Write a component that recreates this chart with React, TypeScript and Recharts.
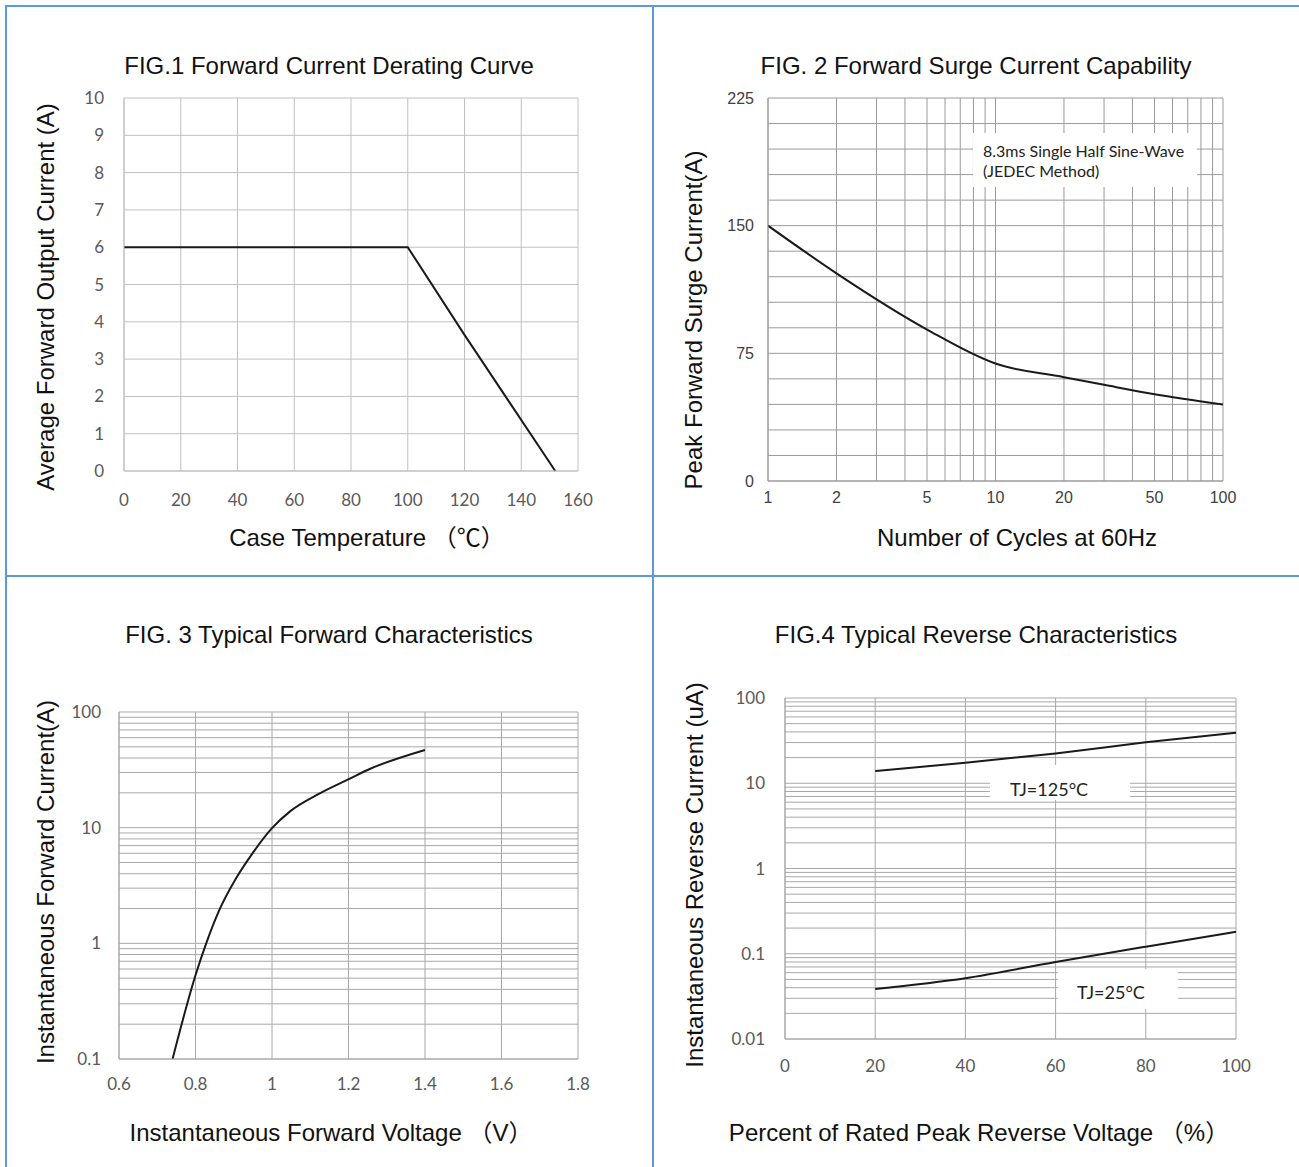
import React from 'react'
import { LineChart, Line, XAxis, YAxis, CartesianGrid } from 'recharts'

const SANS = '"Liberation Sans", Arial, "Noto Sans CJK SC", sans-serif'
const TICK_FONT = 'Lato, "Open Sans", sans-serif'
const FRAME = '#5b9bd5'
const CURVE = '#1a1a1a'

// FIG.1 derating curve
const fig1Temp = [0, 100, 120, 152]
const fig1Current = [6, 6, 3.65, 0]
const fig1XTicks = [0, 20, 40, 60, 80, 100, 120, 140, 160]
const fig1YTicks = [0, 1, 2, 3, 4, 5, 6, 7, 8, 9, 10]

// FIG.2 surge current vs cycles (log x)
const fig2Cycles = [1, 2, 5, 10, 20, 30, 50, 100]
const fig2Surge = [150, 122, 89, 69, 61, 56.5, 51, 45]
const fig2XTicks = [1, 2, 3, 4, 5, 6, 7, 8, 9, 10, 20, 30, 40, 50, 60, 70, 80, 90, 100]
const fig2XLabels = [1, 2, 5, 10, 20, 50, 100]
const fig2YTicks = [0, 15, 30, 45, 60, 75, 90, 105, 120, 135, 150, 165, 180, 195, 210, 225]
const fig2YLabels = [0, 75, 150, 225]

// FIG.3 forward characteristics (log y)
const fig3Voltage = [0.74, 0.8, 0.828, 0.861, 0.905, 0.949, 1.0, 1.048, 1.125, 1.202, 1.257, 1.4]
const fig3Current = [0.1, 0.53, 1.0, 1.9, 3.6, 6.0, 9.9, 13.9, 19.8, 26.4, 32.3, 47]
const fig3XTicks = [0.6, 0.8, 1, 1.2, 1.4, 1.6, 1.8]
const fig3YTicks = [
  0.1, 0.2, 0.3, 0.4, 0.5, 0.6, 0.7, 0.8, 0.9,
  1, 2, 3, 4, 5, 6, 7, 8, 9,
  10, 20, 30, 40, 50, 60, 70, 80, 90, 100,
]
const fig3YLabels = [0.1, 1, 10, 100]

// FIG.4 reverse characteristics (log y)
const fig4Percent = [20, 40, 60, 80, 100]
const fig4Tj125 = [13.9, 17.4, 22.4, 30.2, 39.2]
const fig4Tj25 = [0.0387, 0.0517, 0.08, 0.121, 0.181]
const fig4XTicks = [0, 20, 40, 60, 80, 100]
const fig4YTicks = [
  0.01, 0.02, 0.03, 0.04, 0.05, 0.06, 0.07, 0.08, 0.09,
  0.1, 0.2, 0.3, 0.4, 0.5, 0.6, 0.7, 0.8, 0.9,
  1, 2, 3, 4, 5, 6, 7, 8, 9,
  10, 20, 30, 40, 50, 60, 70, 80, 90, 100,
]
const fig4YLabels = [0.01, 0.1, 1, 10, 100]

const fig1Data = fig1Temp.map((t, i) => ({ temp: t, current: fig1Current[i] }))
const fig2Data = fig2Cycles.map((c, i) => ({ cycles: c, surge: fig2Surge[i] }))
const fig3Data = fig3Voltage.map((v, i) => ({ voltage: v, current: fig3Current[i] }))
const fig4Data = fig4Percent.map((p, i) => ({ pct: p, hot: fig4Tj125[i], cold: fig4Tj25[i] }))

const only = (labels: number[]) => (v: number) => (labels.includes(v) ? String(v) : '')

function Txt({ x, y, size, children, rotate = false, family = SANS, color = '#111', left = false }: any) {
  return (
    <div
      style={{
        position: 'absolute',
        left: x,
        top: y,
        fontSize: size,
        fontFamily: family,
        color,
        whiteSpace: 'nowrap',
        lineHeight: 1,
        transform: left
          ? 'translate(0, -50%)'
          : `translate(-50%, -50%)${rotate ? ' rotate(-90deg)' : ''}`,
        zIndex: 3,
      }}
    >
      {children}
    </div>
  )
}

function Box({ x, y, w, h }: any) {
  return <div style={{ position: 'absolute', left: x, top: y, width: w, height: h, background: '#fff', zIndex: 2 }} />
}

function Place({ x, y, children }: any) {
  return <div style={{ position: 'absolute', left: x, top: y }}>{children}</div>
}

export default function App() {
  const tick1 = { fill: '#595959', fontSize: 17, fontFamily: TICK_FONT }
  const tick2 = { fill: '#404040', fontSize: 16, fontFamily: SANS }

  return (
    <div style={{ position: 'absolute', left: 0, top: 0, width: 1299, height: 1167, background: '#fff', overflow: 'hidden' }}>
      {/* frame */}
      <div style={{ position: 'absolute', left: 5, top: 5, width: 1294, height: 2, background: FRAME }} />
      <div style={{ position: 'absolute', left: 5, top: 5, width: 2, height: 1162, background: FRAME }} />
      <div style={{ position: 'absolute', left: 5, top: 575, width: 1294, height: 2, background: FRAME }} />
      <div style={{ position: 'absolute', left: 652, top: 5, width: 2, height: 1162, background: FRAME }} />

      {/* FIG.1 */}
      <Txt x={329} y={66} size={24}>FIG.1 Forward Current Derating Curve</Txt>
      <Txt x={46} y={297} size={24} rotate>Average Forward Output Current (A)</Txt>
      <Txt x={367} y={538} size={24}>Case Temperature （℃）</Txt>
      <Place x={0} y={80}>
        <LineChart width={600} height={431} data={fig1Data} margin={{ top: 18, right: 22, bottom: 0, left: 0 }}>
          <CartesianGrid stroke="#c0c0c0" strokeWidth={1} />
          <XAxis dataKey="temp" type="number" domain={[0, 160]} ticks={fig1XTicks} interval={0}
            height={40} tickLine={false} tickSize={0} tickMargin={23} axisLine={{ stroke: '#c0c0c0' }} tick={tick1} />
          <YAxis type="number" domain={[0, 10]} ticks={fig1YTicks} interval={0}
            width={124} tickLine={false} tickSize={0} tickMargin={20} axisLine={{ stroke: '#c0c0c0' }} tick={tick1} />
          <Line type="linear" dataKey="current" stroke={CURVE} strokeWidth={2} dot={false} isAnimationActive={false} />
        </LineChart>
      </Place>

      {/* FIG.2 */}
      <Txt x={976} y={66} size={24}>FIG. 2 Forward Surge Current Capability</Txt>
      <Txt x={694} y={320} size={24} rotate>Peak Forward Surge Current(A)</Txt>
      <Txt x={1017} y={538} size={24}>Number of Cycles at 60Hz</Txt>
      <Place x={660} y={80}>
        <LineChart width={583} height={441} data={fig2Data} margin={{ top: 18, right: 20, bottom: 0, left: 0 }}>
          <CartesianGrid stroke="#9a9a9a" strokeWidth={1} />
          <XAxis dataKey="cycles" type="number" scale="log" domain={[1, 100]} allowDataOverflow ticks={fig2XTicks} interval={0}
            tickFormatter={only(fig2XLabels)} height={40} tickLine={false} tickSize={0} tickMargin={11}
            axisLine={{ stroke: '#9a9a9a' }} tick={tick2} />
          <YAxis type="number" domain={[0, 225]} ticks={fig2YTicks} interval={0} tickFormatter={only(fig2YLabels)}
            width={108} tickLine={false} tickSize={0} tickMargin={14} axisLine={{ stroke: '#9a9a9a' }} tick={tick2} />
          <Line type="monotone" dataKey="surge" stroke={CURVE} strokeWidth={2} dot={false} isAnimationActive={false} />
        </LineChart>
      </Place>
      <Box x={973} y={133} w={224} h={54} />
      <Txt x={983} y={151} size={16} family={TICK_FONT} color="#222" left>8.3ms Single Half Sine-Wave</Txt>
      <Txt x={983} y={171} size={16} family={TICK_FONT} color="#222" left>(JEDEC Method)</Txt>

      {/* FIG.3 */}
      <Txt x={329} y={635} size={24}>FIG. 3 Typical Forward Characteristics</Txt>
      <Txt x={46} y={882} size={24} rotate>Instantaneous Forward Current(A)</Txt>
      <Txt x={331} y={1133} size={24}>Instantaneous Forward Voltage （V）</Txt>
      <Place x={0} y={690}>
        <LineChart width={600} height={409} data={fig3Data} margin={{ top: 22, right: 22, bottom: 0, left: 0 }}>
          <CartesianGrid stroke="#a8a8a8" strokeWidth={1} />
          <XAxis dataKey="voltage" type="number" domain={[0.6, 1.8]} ticks={fig3XTicks} interval={0}
            height={40} tickLine={false} tickSize={0} tickMargin={19} axisLine={{ stroke: '#a8a8a8' }} tick={tick1} />
          <YAxis type="number" scale="log" domain={[0.1, 100]} allowDataOverflow ticks={fig3YTicks} interval={0}
            tickFormatter={only(fig3YLabels)} width={119} tickLine={false} tickSize={0} tickMargin={18}
            axisLine={{ stroke: '#a8a8a8' }} tick={tick1} />
          <Line type="monotone" dataKey="current" stroke={CURVE} strokeWidth={2} dot={false} isAnimationActive={false} />
        </LineChart>
      </Place>

      {/* FIG.4 */}
      <Txt x={976} y={635} size={24}>FIG.4 Typical Reverse Characteristics</Txt>
      <Txt x={695} y={875} size={24} rotate>Instantaneous Reverse Current (uA)</Txt>
      <Txt x={979} y={1133} size={24}>Percent of Rated Peak Reverse Voltage （%）</Txt>
      <Place x={660} y={680}>
        <LineChart width={596} height={399} data={fig4Data} margin={{ top: 18, right: 20, bottom: 0, left: 0 }}>
          <CartesianGrid stroke="#a8a8a8" strokeWidth={1} />
          <XAxis dataKey="pct" type="number" domain={[0, 100]} ticks={fig4XTicks} interval={0}
            height={40} tickLine={false} tickSize={0} tickMargin={21} axisLine={{ stroke: '#a8a8a8' }} tick={tick1} />
          <YAxis type="number" scale="log" domain={[0.01, 100]} allowDataOverflow ticks={fig4YTicks} interval={0}
            tickFormatter={only(fig4YLabels)} width={125} tickLine={false} tickSize={0} tickMargin={20}
            axisLine={{ stroke: '#a8a8a8' }} tick={tick1} />
          <Line type="monotone" dataKey="hot" stroke={CURVE} strokeWidth={2} dot={false} isAnimationActive={false} />
          <Line type="monotone" dataKey="cold" stroke={CURVE} strokeWidth={2} dot={false} isAnimationActive={false} />
        </LineChart>
      </Place>
      <Box x={990} y={765} w={140} h={35} />
      <Txt x={1049} y={789} size={18} family={TICK_FONT} color="#222">TJ=125°C</Txt>
      <Box x={1058} y={969} w={120} h={40} />
      <Txt x={1111} y={992} size={18} family={TICK_FONT} color="#222">TJ=25°C</Txt>
    </div>
  )
}
